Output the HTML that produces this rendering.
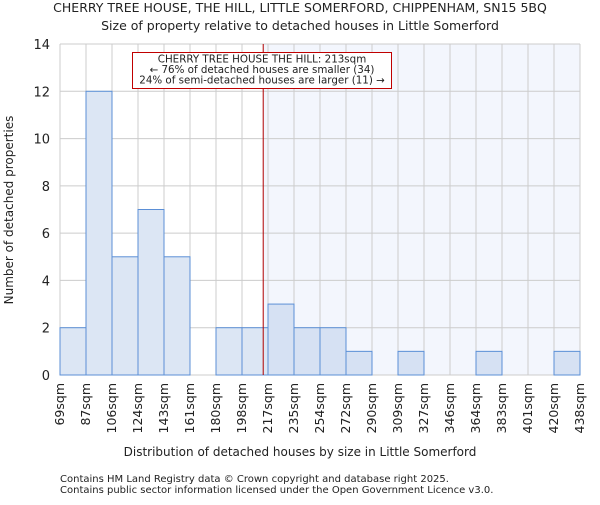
<!DOCTYPE html>
<html><head><meta charset="utf-8"><style>
body{margin:0;background:#fff;}
svg text{font-family:"DejaVu Sans","Liberation Sans",sans-serif;fill:#222;}
</style></head><body>
<svg id="c" width="600" height="500" xmlns="http://www.w3.org/2000/svg">
<text x="300" y="12" font-size="12.5" text-anchor="middle">CHERRY TREE HOUSE, THE HILL, LITTLE SOMERFORD, CHIPPENHAM, SN15 5BQ</text>
<text x="300" y="30" font-size="12.5" text-anchor="middle">Size of property relative to detached houses in Little Somerford</text>
<g id="plot"></g>
<text x="300" y="456" font-size="12" text-anchor="middle">Distribution of detached houses by size in Little Somerford</text>
<text transform="translate(13,210) rotate(-90)" font-size="12" text-anchor="middle">Number of detached properties</text>
<text x="60" y="482" font-size="10">Contains HM Land Registry data © Crown copyright and database right 2025.</text>
<text x="60" y="493" font-size="10">Contains public sector information licensed under the Open Government Licence v3.0.</text>
</svg>
<script>
const binLabels=["69sqm","87sqm","106sqm","124sqm","143sqm","161sqm","180sqm","198sqm","217sqm","235sqm","254sqm","272sqm","290sqm","309sqm","327sqm","346sqm","364sqm","383sqm","401sqm","420sqm","438sqm"];
const counts=[2,12,5,7,5,0,2,2,3,2,2,1,0,1,0,0,1,0,0,1];
const yTicks=[0,2,4,6,8,10,12,14];
const markerValue=213;
const edgeStart=68.8, edgeStep=18.45;

const NS="http://www.w3.org/2000/svg";
const g=document.getElementById("plot");
const X0=60,X1=580,Y0=375,Y1=44,YMAX=14;
const bw=(X1-X0)/counts.length;
const xi=i=>X0+i*bw;
const xv=v=>X0+((v-edgeStart)/edgeStep)*bw;
const y=v=>Y0-(v/YMAX)*(Y0-Y1);
function el(t,a,parent){const e=document.createElementNS(NS,t);for(const k in a)e.setAttribute(k,a[k]);(parent||g).appendChild(e);return e;}
const mx=xv(markerValue);
const shade=el("rect",{x:mx,y:Y1,width:X1-mx,height:Y0-Y1,fill:"#f3f6fd"});


yTicks.forEach(t=>{
  const l=el("line",{x1:X0,x2:X1,y1:y(t),y2:y(t),stroke:"#cccccc","stroke-width":1});
  
  
  const tx=el("text",{x:X0-10,y:y(t)+5,"font-size":13,"text-anchor":"end"});
  tx.textContent=t;
  
  
});
binLabels.forEach((lab,i)=>{
  const l=el("line",{x1:xi(i),x2:xi(i),y1:Y1,y2:Y0,stroke:"#cccccc","stroke-width":1});
  
  
  const tx=el("text",{transform:`translate(${xi(i)+4},${Y0+8}) rotate(-90)`,"font-size":12.5,"text-anchor":"end"});
  tx.textContent=lab;
  
  
});
counts.forEach((c,i)=>{
  if(c<=0)return;
  const r=el("rect",{x:xi(i),y:y(c),width:bw,height:Y0-y(c),fill:xi(i)>=mx?"#d6e1f3":"#dce6f4",stroke:"#5b8fd6","stroke-width":1});
  
  
});
const ml=el("line",{x1:mx,x2:mx,y1:Y1,y2:Y0,stroke:"#b00000","stroke-width":1});


const box=el("rect",{x:132.5,y:52.5,width:259,height:36,fill:"#fff",stroke:"#c00000","stroke-width":1});


["CHERRY TREE HOUSE THE HILL: 213sqm","← 76% of detached houses are smaller (34)","24% of semi-detached houses are larger (11) →"].forEach((s,k)=>{
  const t=el("text",{x:262,y:62.5+k*10.5,"font-size":10.3,"text-anchor":"middle"});
  t.textContent=s;
  
  
});
</script>
</body></html>
